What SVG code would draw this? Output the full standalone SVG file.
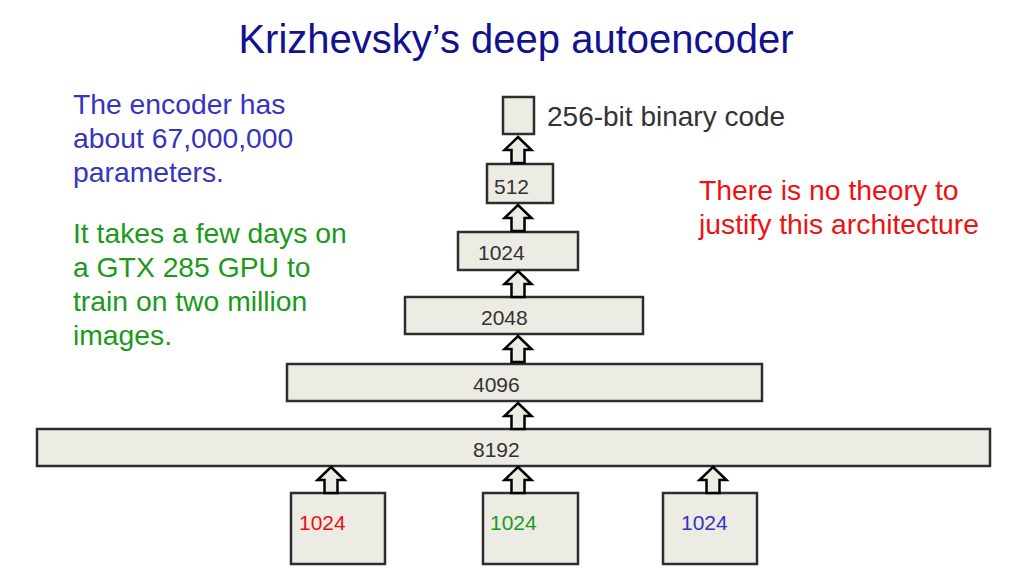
<svg xmlns="http://www.w3.org/2000/svg" width="1024" height="576" viewBox="0 0 1024 576">
<style>
text{font-family:"Liberation Sans",Arial,sans-serif;}
.box{fill:#ecebe4;stroke:#2e2e2e;stroke-width:2.5;}
.arr{fill:#ecebe4;stroke:#000;stroke-width:2.5;stroke-linejoin:miter;}
.lbl{font-size:21px;fill:#333;}
.note{font-size:28.3px;}
</style>
<defs>
<path id="up" d="M0,0 L13.5,13 L6.5,13 L6.5,26 L-6.5,26 L-6.5,13 L-13.5,13 Z"/>
</defs>
<rect width="1024" height="576" fill="#fff"/>
<text x="516" y="53" text-anchor="middle" font-size="40" fill="#12128f">Krizhevsky’s deep autoencoder</text>
<g id="note-params" class="note" fill="#3535c0">
<text x="73" y="114">The encoder has</text>
<text x="73" y="148">about 67,000,000</text>
<text x="73" y="182">parameters.</text>
</g>
<g id="note-time" class="note" fill="#1a9a1a">
<text x="73" y="243">It takes a few days on</text>
<text x="73" y="277">a GTX 285 GPU to</text>
<text x="73" y="311">train on two million</text>
<text x="73" y="345">images.</text>
</g>
<g id="note-theory" class="note" fill="#ee1111">
<text x="699" y="200">There is no theory to</text>
<text x="699" y="234">justify this architecture</text>
</g>
<g id="code">
<rect class="box" x="503" y="97" width="31" height="37"/>
<text x="547" y="126" font-size="28" fill="#333">256-bit binary code</text>
</g>
<g id="n512"><rect class="box" x="487" y="164" width="66" height="39"/><text class="lbl" x="494" y="194">512</text></g>
<g id="n1024"><rect class="box" x="458" y="232" width="120" height="38"/><text class="lbl" x="478" y="260">1024</text></g>
<g id="n2048"><rect class="box" x="405" y="297" width="238" height="37"/><text class="lbl" x="481" y="325">2048</text></g>
<g id="n4096"><rect class="box" x="287" y="364" width="475" height="37"/><text class="lbl" x="473" y="392">4096</text></g>
<g id="n8192"><rect class="box" x="37" y="429" width="953" height="37"/><text class="lbl" x="473" y="457">8192</text></g>
<g id="in-red"><rect class="box" x="291" y="493" width="94" height="71"/><text x="299" y="530" font-size="21" fill="#ee1111">1024</text></g>
<g id="in-green"><rect class="box" x="483" y="493" width="95" height="71"/><text x="490" y="530" font-size="21" fill="#1a9a1a">1024</text></g>
<g id="in-blue"><rect class="box" x="663" y="493" width="94" height="71"/><text x="681" y="530" font-size="21" fill="#3535c0">1024</text></g>
<g id="connectors">
<use href="#up" class="arr" x="518" y="137"/>
<use href="#up" class="arr" x="518" y="205"/>
<use href="#up" class="arr" x="518" y="271"/>
<use href="#up" class="arr" x="518" y="336"/>
<use href="#up" class="arr" x="518" y="403"/>
<use href="#up" class="arr" x="331" y="467"/>
<use href="#up" class="arr" x="518" y="467"/>
<use href="#up" class="arr" x="713" y="467"/>
</g>
</svg>
